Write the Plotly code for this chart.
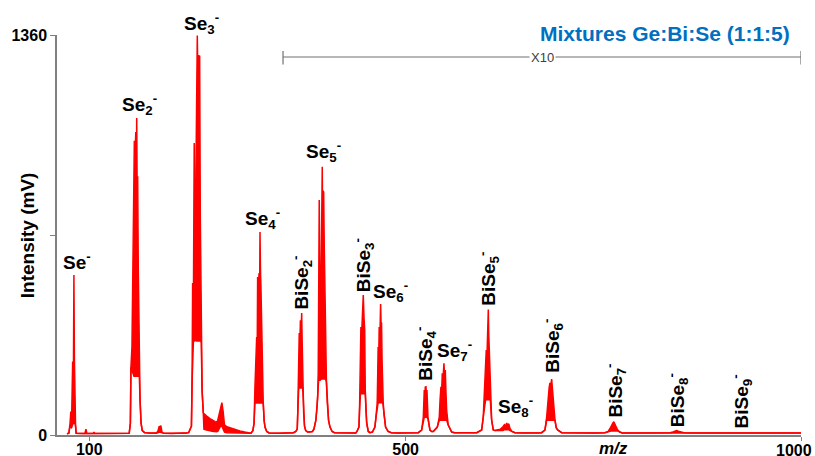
import plotly.graph_objects as go

# ---------------- data ----------------
# The spectrum is drawn as a band: the dense isotope/noise oscillation of the
# recorded trace runs between a lower envelope (spectrum_min) and an upper
# envelope (spectrum_max), both in mV, at the m/z values of spectrum_mz.
spectrum_mz = [
    71.8, 74.2, 75.7, 76.7, 77.5, 78.2, 79, 79.8, 80.6, 81.2, 81.9, 82.6, 83.4,
    90, 94.5, 95.8, 97, 105, 105.9, 107, 120, 135, 148,
    150.5, 152, 152.7, 154, 155.7, 156.5, 157, 158, 158.8, 159.5, 160, 160.6, 161.2, 162, 162.5, 163.3, 164.2, 165.5, 167, 170, 178,
    185, 187, 188.5, 189.5, 190.5, 192, 194, 205, 215, 222,
    225.7, 229.2, 230, 230.7, 231.7, 232.7, 233.4, 234, 234.9, 235.7, 236.6, 237.4, 238.4, 239, 239.6, 240.4, 241, 241.6, 242.7, 244.2,
    245, 247, 249, 251, 253, 255, 257, 259, 261, 262.5, 264, 266, 267.7, 269.3, 271, 274, 278, 283, 290.5, 296.5, 302.5,
    304.4, 306.9, 308.4, 309.5, 310.6, 311.7, 312.4, 312.9, 313.7, 314.6, 315.4, 315.9, 316.5, 317.1, 317.7, 318.4, 319.2, 320, 321.1, 322.2, 324.4, 327.4, 340, 350,
    358.2, 361.2, 363, 363.7, 364.3, 364.9, 365.5, 366.2, 367, 367.7, 368.6, 369.2, 369.8, 370.5, 371.1, 372.2, 373.7, 376.2, 379,
    382.1, 384.1, 386.6, 388.1, 388.8, 389.5, 390.1, 390.8, 391.4, 392.1, 392.7, 393.3, 394, 394.6, 395.2, 395.8, 396.4, 397.1, 397.7, 398.3, 398.9, 399.9, 401, 402.6, 404.4, 407.1, 410.1, 420, 430,
    437, 438.5, 441, 441.7, 442.3, 442.9, 443.5, 444.2, 444.8, 445.6, 446.5, 447.4, 448.3, 449, 449.8, 450.8, 452.8, 455, 458,
    461.2, 462.5, 464.1, 464.7, 465.3, 466, 466.6, 467.5, 468.4, 469, 469.6, 470.3, 470.9, 471.7, 472.5, 474.7, 477.9, 482, 490, 500, 510,
    516, 520.3, 522.4, 523.6, 524.3, 524.9, 525.8, 526.4, 527, 528.3, 530.8, 533,
    535, 540.1, 542.6, 543.6, 544.7, 545.5, 546.4, 547.3, 548.5, 549.3, 550.2, 551, 551.9, 553.9, 556, 558.3, 562, 570, 580, 590,
    596.2, 598.2, 600.4, 601.2, 602, 602.7, 603.3, 604, 604.6, 605.2, 605.8, 606.5, 607.1, 608.8, 610.9,
    613, 617.2, 620, 623.1, 625, 626.5, 627.8, 629, 630.5, 632, 634.5, 638.3, 650, 660, 668,
    672, 676.2, 678.4, 679.4, 680.4, 681.5, 682.5, 683.6, 684.7, 685.7, 686.7, 688.9, 690.5, 692.3, 697.4, 710, 725, 740, 752,
    756.1, 758.5, 760.5, 762, 763.3, 764.5, 766, 768, 770.9, 774, 790, 810, 825,
    834.3, 838, 841, 842.8, 845, 848, 852, 870, 890, 910,
    918, 922.9, 927, 950, 975, 1000,
]
spectrum_max = [
    4, 6, 40, 80, 25, 90, 250, 120, 544, 260, 95, 40, 6,
    5, 5, 20, 5, 5, 10, 5, 5, 5, 5,
    6, 40, 230, 300, 690, 850, 1000, 960, 1030, 900, 1078, 820, 880, 560, 425, 250, 120, 40, 15, 8, 6,
    6, 15, 30, 25, 32, 10, 6, 5, 6, 6,
    8, 30, 180, 517, 450, 993, 700, 323, 900, 1100, 1358, 1200, 1292, 1150, 1290, 741, 500, 313, 150, 75,
    72, 68, 63, 58, 55, 52, 48, 45, 42, 50, 70, 98, 110, 80, 35, 28, 24, 20, 14, 10, 6,
    6, 15, 40, 163, 230, 333, 300, 537, 430, 550, 480, 690, 560, 503, 420, 279, 200, 109, 50, 27, 12, 7, 6, 7,
    8, 12, 20, 80, 163, 250, 347, 300, 390, 330, 415, 320, 221, 130, 75, 30, 15, 10, 10,
    12, 20, 51, 100, 129, 210, 500, 799, 600, 187, 400, 619, 780, 912, 700, 830, 826, 650, 561, 420, 279, 180, 109, 50, 27, 12, 8, 7, 8,
    7, 12, 27, 80, 153, 260, 367, 330, 391, 420, 476, 400, 357, 153, 90, 41, 12, 8, 10,
    27, 60, 109, 200, 299, 250, 367, 330, 445, 380, 380, 250, 153, 110, 75, 27, 12, 8, 7, 8, 7,
    8, 17, 61, 153, 120, 163, 164, 130, 153, 61, 17, 12,
    12, 27, 61, 120, 164, 140, 210, 190, 244, 200, 221, 150, 85, 34, 20, 10, 8, 7, 8, 8,
    17, 61, 187, 240, 289, 250, 357, 390, 427, 340, 299, 220, 163, 51, 17,
    15, 18, 20, 28, 35, 30, 41, 33, 38, 22, 12, 8, 7, 8, 7,
    8, 17, 61, 100, 129, 160, 177, 170, 190, 150, 129, 51, 25, 17, 8, 7, 8, 7, 8,
    12, 22, 35, 40, 45, 38, 30, 18, 10, 7, 7, 7, 7,
    8, 10, 13, 15, 13, 10, 8, 7, 7, 7,
    7, 9, 7, 7, 7, 7,
]
spectrum_min = [
    4, 6, 30, 25, 25, 30, 40, 40, 40, 40, 40, 30, 6,
    5, 5, 5, 5, 5, 5, 5, 5, 5, 5,
    6, 40, 230, 220, 200, 200, 200, 200, 200, 200, 200, 200, 200, 200, 200, 200, 120, 40, 15, 8, 6,
    6, 8, 10, 10, 10, 8, 6, 5, 6, 6,
    8, 30, 180, 300, 320, 320, 320, 323, 320, 320, 320, 320, 320, 320, 320, 320, 320, 313, 150, 75,
    20, 18, 16, 15, 14, 13, 12, 12, 11, 12, 20, 30, 30, 22, 10, 8, 8, 7, 7, 6, 6,
    6, 15, 40, 110, 110, 110, 110, 110, 110, 110, 110, 110, 110, 110, 110, 110, 110, 109, 50, 27, 12, 7, 6, 7,
    8, 12, 20, 80, 150, 160, 160, 160, 160, 160, 160, 160, 160, 130, 75, 30, 15, 10, 10,
    12, 20, 51, 100, 129, 190, 190, 190, 190, 187, 190, 190, 190, 190, 190, 190, 190, 190, 190, 190, 190, 180, 109, 50, 27, 12, 8, 7, 8,
    7, 12, 27, 80, 140, 140, 140, 140, 140, 140, 140, 140, 140, 140, 90, 41, 12, 8, 10,
    27, 60, 100, 110, 110, 110, 110, 110, 110, 110, 110, 110, 110, 100, 75, 27, 12, 8, 7, 8, 7,
    8, 17, 55, 60, 60, 60, 60, 60, 60, 55, 17, 12,
    12, 27, 50, 50, 50, 50, 50, 50, 50, 50, 50, 50, 50, 34, 20, 10, 8, 7, 8, 8,
    17, 61, 120, 120, 120, 120, 120, 120, 120, 120, 120, 120, 120, 51, 17,
    15, 14, 14, 15, 18, 18, 18, 18, 18, 15, 12, 8, 7, 8, 7,
    8, 17, 50, 50, 50, 50, 50, 50, 50, 50, 50, 50, 25, 17, 8, 7, 8, 7, 8,
    12, 14, 14, 14, 14, 14, 14, 14, 10, 7, 7, 7, 7,
    8, 8, 8, 8, 8, 8, 8, 7, 7, 7,
    7, 7, 7, 7, 7, 7,
]

# peak labels, anchored at the peak apex
peak_labels = [
    "Se<sup>-</sup>", "Se<sub>2</sub><sup>-</sup>", "Se<sub>3</sub><sup>-</sup>", "Se<sub>4</sub><sup>-</sup>",
    "Se<sub>5</sub><sup>-</sup>", "BiSe<sub>2</sub><sup>-</sup>", "BiSe<sub>3</sub><sup>-</sup>", "Se<sub>6</sub><sup>-</sup>",
    "BiSe<sub>4</sub><sup>-</sup>", "Se<sub>7</sub><sup>-</sup>", "BiSe<sub>5</sub><sup>-</sup>", "Se<sub>8</sub><sup>-</sup>",
    "BiSe<sub>6</sub><sup>-</sup>", "BiSe<sub>7</sub><sup>-</sup>", "BiSe<sub>8</sub><sup>-</sup>", "BiSe<sub>9</sub><sup>-</sup>",
]
peak_mz = [80.6, 160, 236.6, 315.9, 394.6, 368.6, 446.5, 468.4, 525.8, 548.5, 604.6, 627.8, 684.7, 763.3, 842.8, 922.9]
peak_mv = [544, 1078, 1358, 690, 912, 415, 476, 445, 164, 244, 427, 41, 190, 45, 15, 9]

magnified_range = [345, 1000]   # m/z range shown x10
magnified_text = "X10"

x_tickvals = [100, 500, 1000]
x_ticktext = ["100", "500", "1000"]
y_tickvals = [0, 680, 1360]
y_ticktext = ["0", "", "1360"]

title_text = "Mixtures Ge:Bi:Se (1:1:5)"

# ---------------- styling ----------------
FONT = "Liberation Sans, Arial, sans-serif"
RED = "#ff0000"
label_angle = [0, 0, 0, 0, 0, -90, -90, 0, -90, 0, -90, 0, -90, -90, -90, -90]
label_xshift = [3, 3, 4, 2, 1, 0, 0, 10, 0, 11, 0, 9, 0, 2, 1, 1]
label_yshift = [0, -2, -3, -2, 0, 1, 1, -3, 4, -3, 2, 1, 4, 2, 1, 2]

fig = go.Figure()
fig.add_trace(go.Scatter(
    x=spectrum_mz, y=spectrum_min, mode="lines",
    line=dict(color=RED, width=1.5),
    hoverinfo="skip", showlegend=False,
))
fig.add_trace(go.Scatter(
    x=spectrum_mz, y=spectrum_max, mode="lines",
    line=dict(color=RED, width=1.5), fill="tonexty", fillcolor=RED,
    hoverinfo="skip", showlegend=False,
))

annotations = []
for txt, mx, my, ang, xs, ys in zip(peak_labels, peak_mz, peak_mv, label_angle, label_xshift, label_yshift):
    annotations.append(dict(
        x=mx, y=my, xref="x", yref="y", text="<b>" + txt + "</b>",
        showarrow=False, textangle=ang, xanchor="center", yanchor="bottom",
        xshift=xs, yshift=ys, font=dict(family=FONT, size=19, color="#000000"),
    ))

# last x tick label (drawn as text so it is not hidden at the figure edge)
annotations.append(dict(
    x=x_tickvals[-1], y=0, xref="x", yref="paper", text="<b>" + x_ticktext[-1] + "</b>",
    showarrow=False, xanchor="right", yanchor="top", xshift=13, yshift=-5,
    font=dict(family=FONT, size=16, color="#000000"),
))
# title
annotations.append(dict(
    x=0.988, y=1.005, xref="paper", yref="paper", text="<b>" + title_text + "</b>",
    showarrow=False, xanchor="right", yanchor="middle",
    font=dict(family=FONT, size=21, color="#0070c0"),
))
# y axis title
annotations.append(dict(
    x=-0.040, y=0.5, xref="paper", yref="paper", text="<b>Intensity (mV)</b>",
    showarrow=False, textangle=-90, xanchor="center", yanchor="middle",
    font=dict(family=FONT, size=19, color="#000000"),
))
# x axis title
annotations.append(dict(
    x=763.5, y=-0.035, xref="x", yref="paper", text="<b><i>m/z</i></b>",
    showarrow=False, xanchor="center", yanchor="middle",
    font=dict(family=FONT, size=17, color="#000000"),
))
# X10 text
annotations.append(dict(
    x=(magnified_range[0] + magnified_range[1]) / 2, y=0.945, xref="x", yref="paper",
    text=magnified_text, showarrow=False, xanchor="center", yanchor="middle",
    bgcolor="#ffffff", borderpad=1,
    font=dict(family=FONT, size=13, color="#404040"),
))

shapes = [
    dict(type="line", xref="x", yref="paper", x0=magnified_range[0], x1=magnified_range[1],
         y0=0.945, y1=0.945, line=dict(color="#707070", width=1.2), layer="below"),
    dict(type="line", xref="x", yref="paper", x0=magnified_range[0], x1=magnified_range[0],
         y0=0.926, y1=0.96, line=dict(color="#707070", width=1.2)),
    dict(type="line", xref="x", yref="paper", x0=magnified_range[1], x1=magnified_range[1],
         y0=0.926, y1=0.96, line=dict(color="#707070", width=1.2)),
]

fig.update_layout(
    width=815, height=456,
    margin=dict(l=57, r=14, t=35, b=21, autoexpand=False),
    paper_bgcolor="#ffffff", plot_bgcolor="#ffffff",
    annotations=annotations, shapes=shapes,
    xaxis=dict(
        range=[59.2, 1000], tickmode="array", tickvals=x_tickvals,
        ticktext=x_ticktext[:-1] + [""],
        automargin=False, ticklabelstandoff=-5,
        showgrid=False, zeroline=False, showline=True, linecolor="#808080", linewidth=1.5,
        ticks="outside", ticklen=4, tickcolor="#808080", tickwidth=1.2,
        tickfont=dict(family=FONT, size=16, color="#000000", weight="bold"),
    ),
    yaxis=dict(
        range=[0, 1360], tickmode="array", tickvals=y_tickvals, ticktext=y_ticktext,
        automargin=False,
        showgrid=False, zeroline=False, showline=True, linecolor="#808080", linewidth=1.5,
        ticks="outside", ticklen=5, tickcolor="#808080", tickwidth=1.2,
        tickfont=dict(family=FONT, size=16, color="#000000", weight="bold"),
    ),
)

fig.write_html("out.html", config={"displayModeBar": False},
               post_script="document.body.style.margin='0px';")
